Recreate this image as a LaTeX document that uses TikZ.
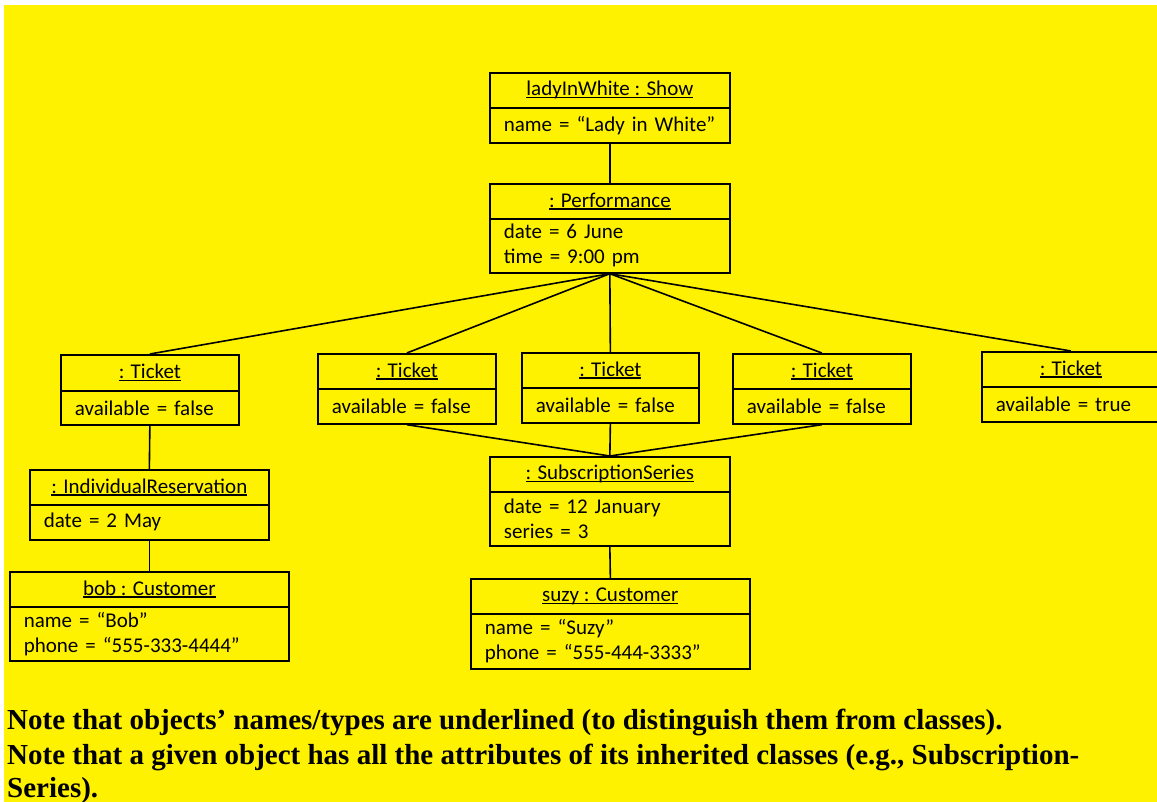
\documentclass[tikz,border=0pt]{standalone}
\usepackage{fontspec}
\setmainfont{Carlito}
\newfontfamily\notefont{Liberation Serif}
\newcommand{\objul}[1]{\setbox0\hbox{#1}\rlap{\rule[-2.5pt]{\wd0}{1.4pt}}\box0}
\begin{document}
\begin{tikzpicture}[x=1pt,y=-1pt,
    objname/.style={draw,line width=1.7pt,anchor=north west,inner sep=0pt,
      minimum height=35pt,font=\fontsize{21}{25}\selectfont},
    objattr/.style={draw,line width=1.7pt,anchor=north west,inner xsep=14pt,
      inner ysep=0pt,align=left,font=\fontsize{21}{25}\selectfont},
    link/.style={line width=1.6pt},
    notetext/.style={anchor=base west,inner sep=0pt,
      font={\notefont\bfseries\fontsize{29}{34}\selectfont}}]
  \useasboundingbox (0,0) rectangle (1157,802);
  \fill[white] (0,0) rectangle (1157,802);
  \fill[yellow] (4,5) rectangle (1157,802);
  % show and performance
  \node[objname,minimum width=240pt] (show) at (489,72) {\objul{ladyInWhite : Show}};
  \node[objattr,text width=212pt,minimum height=35pt] (showa) at (489,107) {name = “Lady in White”};
  \node[objname,minimum width=240pt] (perf) at (489,183) {\objul{: Performance}};
  \node[objattr,text width=212pt,minimum height=54pt] (perfa) at (489,218) {date = 6 June\\time = 9:00 pm};
  % tickets
  \node[objname,minimum width=178pt,minimum height=36pt] (t1) at (60,354) {\objul{: Ticket}};
  \node[objattr,text width=150pt,minimum height=34pt] (t1a) at (60,390) {available = false};
  \node[objname,minimum width=178pt] (t2) at (317,353) {\objul{: Ticket}};
  \node[objattr,text width=150pt,minimum height=35pt] (t2a) at (317,388) {available = false};
  \node[objname,minimum width=177pt] (t3) at (521,352) {\objul{: Ticket}};
  \node[objattr,text width=149pt,minimum height=35pt] (t3a) at (521,387) {available = false};
  \node[objname,minimum width=178pt] (t4) at (732,353) {\objul{: Ticket}};
  \node[objattr,text width=150pt,minimum height=35pt] (t4a) at (732,388) {available = false};
  \node[objname,minimum width=178pt] (t5) at (981,351) {\objul{: Ticket}};
  \node[objattr,text width=150pt,minimum height=35pt] (t5a) at (981,386) {available = true};
  % reservations and customers
  \node[objname,minimum width=239pt] (ir) at (29,469) {\objul{: IndividualReservation}};
  \node[objattr,text width=211pt,minimum height=35pt] (ira) at (29,504) {date = 2 May};
  \node[objname,minimum width=279pt] (bob) at (9,571) {\objul{bob : Customer}};
  \node[objattr,text width=251pt,minimum height=54pt] (boba) at (9,606) {name = “Bob”\\phone = “555-333-4444”};
  \node[objname,minimum width=240pt] (ss) at (489,456) {\objul{: SubscriptionSeries}};
  \node[objattr,text width=212pt,minimum height=54pt] (ssa) at (489,491) {date = 12 January\\series = 3};
  \node[objname,minimum width=279pt] (suzy) at (470,578) {\objul{suzy : Customer}};
  \node[objattr,text width=251pt,minimum height=55pt] (suzya) at (470,613) {name = “Suzy”\\phone = “555-444-3333”};
  % links
  \draw[link] (showa.south) -- (perf.north);
  \foreach \t in {t1,t2,t3,t4,t5}
    \draw[link] (perfa.south) -- (\t.north);
  \draw[link] (t1a.south) -- (ir.north);
  \draw[link] (ira.south) -- (bob.north);
  \foreach \t in {t2a,t3a,t4a}
    \draw[link] (\t.south) -- (ss.north);
  \draw[link] (ssa.south) -- (suzy.north);
  % notes
  \node[notetext] (note1) at (7,729) {Note that objects’ names/types are underlined (to distinguish them from classes).};
  \node[notetext] (note2) at (7,764) {Note that a given object has all the attributes of its inherited classes (e.g., Subscription-};
  \node[notetext] (note3) at (7,797) {Series).};
\end{tikzpicture}
\end{document}
